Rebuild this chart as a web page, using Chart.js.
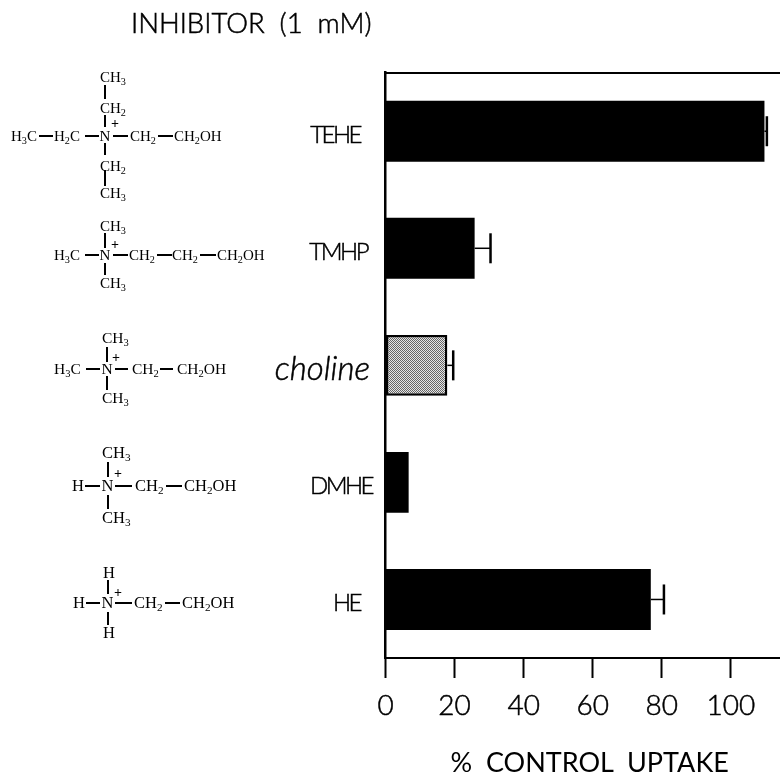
<!DOCTYPE html>
<html>
<head>
<meta charset="utf-8">
<style>html,body{margin:0;padding:0;background:#fff}canvas{display:block}</style>
<script src="https://cdn.jsdelivr.net/npm/chart.js@4"></script>
</head>
<body>
<canvas id="c" width="780" height="779"></canvas>
<script>
const categories = ['TEHE', 'TMHP', 'choline', 'DMHE', 'HE'];
const uptake = [109.7, 25.8, 17.9, 6.7, 76.8];
const errorTop = [110.4, 30.4, 19.6, null, 80.6];
const xTicks = [0, 20, 40, 60, 80, 100];
const titleText = 'INHIBITOR\u00A0\u00A0(1\u00A0\u00A0mM)';
const xTitle = '\u00A0\u00A0%\u00A0\u00A0CONTROL\u00A0\u00A0UPTAKE';

// Layout of the annotation drawing (not data)
const labelRight = [360, 367, 370, 372, 360];
const labelFont = '300 24px Lato, sans-serif';
const chemistry = [
  { s: 15, t: [['H_3C',11,136],['H_2C',54,136],['N',99.5,136],['CH_2',130,136],['CH_2OH',174,136],['CH_3',100,77],['CH_2',100,108],['CH_2',100,166],['CH_3',100,193]],
    p: [115,124],
    b: [[39,136,53,136],[85,136,99,136],[113,136,128,136],[158,136,173,136],[105,85,105,99],[105,115,105,127],[105,143,105,155],[105,170,105,186]] },
  { s: 15, t: [['H_3C',54,255],['N',99.5,255],['CH_2',129,255],['CH_2',172,255],['CH_2OH',217,255],['CH_3',100,226],['CH_3',100,283]],
    p: [115,245],
    b: [[85,255,99,255],[113,255,128,255],[157,255,172,255],[200,255,216,255],[105,233,105,248],[105,263,105,275]] },
  { s: 15.5, t: [['H_3C',54,369],['N',101.5,369],['CH_2',132,369],['CH_2OH',177,369],['CH_3',102,338],['CH_3',102,398]],
    p: [116,358],
    b: [[86,369,100,369],[115,369,128,369],[160,369,173,369],[107,347,107,362],[107,376,107,390]] },
  { s: 16.5, t: [['H',72,486],['N',101.5,486],['CH_2',135,486],['CH_2OH',184,486],['CH_3',102,453],['CH_3',102,518]],
    p: [118,474],
    b: [[85,486,100,486],[115,486,132,486],[166,486,182,486],[108,462,108,477],[108,495,108,509]] },
  { s: 16.5, t: [['H',73,603],['N',101.5,603],['CH_2',134,603],['CH_2OH',182,603],['H',103,573],['H',103,633]],
    p: [118,593],
    b: [[86,603,100,603],[115,603,132,603],[165,603,180,603],[108,580,108,594],[108,612,108,625]] }
];

function chemText(ctx, s, x, y, size) {
  ctx.textAlign = 'left';
  ctx.textBaseline = 'alphabetic';
  let cx = x;
  const base = y + 5;
  for (let i = 0; i < s.length; i++) {
    if (s[i] === '_') {
      i++;
      ctx.font = (size * 0.68) + 'px "Liberation Serif", serif';
      ctx.fillText(s[i], cx, base + 3);
    } else {
      ctx.font = size + 'px "Liberation Serif", serif';
      ctx.fillText(s[i], cx, base);
    }
    cx += ctx.measureText(s[i]).width;
  }
}

function stipple() {
  const p = document.createElement('canvas');
  p.width = 2; p.height = 2;
  const g = p.getContext('2d');
  g.fillStyle = '#e6e6e6'; g.fillRect(0, 0, 2, 2);
  g.fillStyle = '#666'; g.fillRect(0, 0, 1, 1); g.fillRect(1, 1, 1, 1);
  return g.createPattern(p, 'repeat');
}

function heavyText(ctx, text, x, y) {
  ctx.lineWidth = 0.5;
  ctx.strokeStyle = '#000';
  ctx.strokeText(text, x, y);
  ctx.fillText(text, x, y);
}

const annotate = {
  id: 'annotate',
  afterDatasetsDraw(chart) {
    const { ctx, scales: { x, y } } = chart;
    ctx.save();
    // error bars
    ctx.strokeStyle = '#000';
    errorTop.forEach((e, i) => {
      if (e === null) return;
      const py = y.getPixelForValue(i);
      const x0 = x.getPixelForValue(uptake[i]);
      const x1 = x.getPixelForValue(e);
      ctx.lineWidth = 1.5;
      ctx.beginPath(); ctx.moveTo(x0, py); ctx.lineTo(x1, py); ctx.stroke();
      ctx.lineWidth = 2.5;
      ctx.beginPath(); ctx.moveTo(x1, py - 15); ctx.lineTo(x1, py + 15); ctx.stroke();
    });
    // category labels
    ctx.fillStyle = '#000';
    ctx.textBaseline = 'middle';
    ctx.textAlign = 'right';
    categories.forEach((c, i) => {
      ctx.font = c === 'choline' ? 'italic 300 33px Lato, sans-serif' : labelFont;
      ctx.letterSpacing = c === 'choline' ? '0px' : '-2.5px';
      heavyText(ctx, c, labelRight[i], y.getPixelForValue(i) + 4);
    });
    ctx.letterSpacing = '0px';
    // title
    ctx.textAlign = 'left';
    ctx.font = '300 27.5px Lato, sans-serif';
    heavyText(ctx, titleText, 131, 24);
    // structures
    chemistry.forEach(m => {
      ctx.fillStyle = '#000';
      m.t.forEach(([s, tx, ty]) => chemText(ctx, s, tx, ty, m.s));
      ctx.font = 'bold 14px "Liberation Serif", serif';
      ctx.textAlign = 'center';
      ctx.textBaseline = 'middle';
      ctx.fillText('+', m.p[0], m.p[1]);
      ctx.strokeStyle = '#000';
      ctx.lineWidth = 2;
      m.b.forEach(([a, b, c, d]) => {
        ctx.beginPath(); ctx.moveTo(a, b); ctx.lineTo(c, d); ctx.stroke();
      });
    });
    ctx.restore();
  }
};

const fill = stipple();
new Chart(document.getElementById('c'), {
  type: 'bar',
  data: {
    labels: categories,
    datasets: [{
      data: uptake,
      backgroundColor: categories.map(c => c === 'choline' ? fill : '#000'),
      borderColor: '#000',
      borderWidth: categories.map(c => c === 'choline' ? 2.5 : 0),
      borderSkipped: false,
      barPercentage: 0.52,
      categoryPercentage: 1
    }]
  },
  options: {
    indexAxis: 'y',
    responsive: false,
    animation: false,
    layout: { padding: 0 },
    plugins: { legend: { display: false }, tooltip: { enabled: false } },
    scales: {
      x: {
        type: 'linear',
        position: 'bottom',
        min: 0,
        max: 114.2,
        afterFit(s) { s.height = 121; },
        afterBuildTicks(s) { s.ticks = xTicks.map(v => ({ value: v })); },
        ticks: { color: '#000', font: { family: 'Lato, sans-serif', size: 28, weight: '300' }, textStrokeColor: '#000', textStrokeWidth: 0.5, padding: 11, maxRotation: 0, autoSkip: false },
        grid: { drawOnChartArea: false, drawTicks: true, tickLength: 20, tickWidth: 2, tickColor: '#000' },
        border: { display: true, color: '#000', width: 2 },
        title: { display: true, text: xTitle, color: '#000', font: { family: 'Lato, sans-serif', size: 27, weight: '400' }, padding: { top: 10, bottom: 0 } }
      },
      top: {
        type: 'linear',
        axis: 'x',
        position: 'top',
        min: 0,
        max: 114.2,
        afterFit(s) { s.height = 72.7; },
        ticks: { display: false },
        grid: { drawOnChartArea: false, drawTicks: false },
        border: { display: true, color: '#000', width: 2 }
      },
      y: {
        type: 'category',
        afterFit(s) { s.width = 385.5; },
        ticks: { display: false },
        grid: { drawOnChartArea: false, drawTicks: false },
        border: { display: true, color: '#000', width: 2.5 }
      }
    }
  },
  plugins: [annotate]
});
</script>
</body>
</html>
